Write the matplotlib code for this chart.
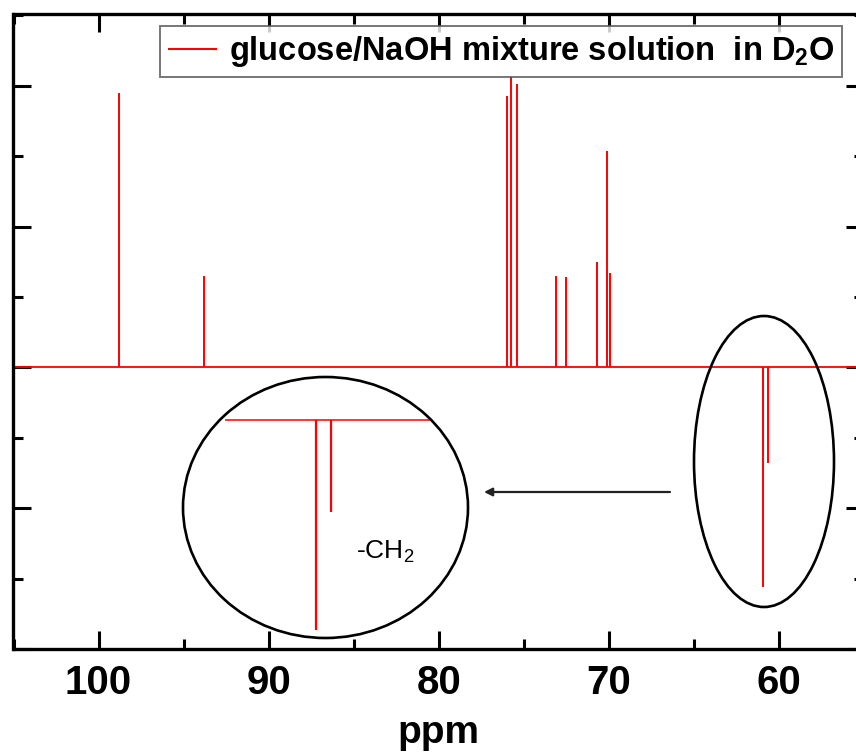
import matplotlib
matplotlib.use("Agg")
import matplotlib.pyplot as plt
from matplotlib.patches import Ellipse
from matplotlib.ticker import MultipleLocator

plt.rcParams["font.family"] = ["Liberation Sans", "DejaVu Sans"]
plt.rcParams["mathtext.fontset"] = "custom"
plt.rcParams["mathtext.rm"] = "Liberation Sans"
plt.rcParams["mathtext.bf"] = "Liberation Sans:bold"

# Peak list (ppm, relative intensity; CH2 peaks negative)
peak_ppm = [98.82, 93.82, 76.00, 75.76, 75.41, 73.10, 72.53, 70.71, 70.08, 69.92, 60.92, 60.66]
peak_height = [1.95, 0.65, 1.93, 2.07, 2.01, 0.65, 0.64, 0.75, 1.54, 0.67, -1.56, -0.68]

x_ticks = [100, 90, 80, 70, 60]
legend_label = r"glucose/NaOH mixture solution  in D$_\mathbf{2}$O"
inset_label = r"-CH$_\mathrm{2}$"

W, H = 856, 756


def fx(px):
    return px / W


def fy(py):
    return 1 - py / H


fig = plt.figure(figsize=(W / 100, H / 100), dpi=100)
ax = fig.add_axes([fx(13.5), fy(649), (864 - 13.5) / W, (649 - 14) / H])

ax.axhline(0, color="red", linewidth=1.3, zorder=2)
ax.vlines(peak_ppm, 0, peak_height, color="red", linewidth=1.4, label=legend_label)

ax.set_xlim(105, 55)
ax.set_ylim(-2.0, 2.51)
ax.set_xticks(x_ticks)
ax.xaxis.set_minor_locator(MultipleLocator(5))
ax.yaxis.set_major_locator(MultipleLocator(1))
ax.yaxis.set_minor_locator(MultipleLocator(0.5))
ax.set_yticklabels([])

ax.tick_params(which="both", direction="in", top=True, right=True, width=2.2)
ax.tick_params(which="major", length=13)
ax.tick_params(which="minor", length=7)
ax.tick_params(axis="x", labelsize=29, pad=11)
for lbl in ax.get_xticklabels():
    lbl.set_fontweight("bold")
for sp in ax.spines.values():
    sp.set_linewidth(2.4)

ax.set_xlabel("ppm", fontsize=28, fontweight="bold", labelpad=9)

leg = ax.legend(
    loc="upper left",
    bbox_to_anchor=(fx(160), fy(26)),
    bbox_transform=fig.transFigure,
    prop={"size": 23.5, "weight": "bold"},
    frameon=True,
    fancybox=False,
    borderaxespad=0,
    borderpad=0.25,
    handlelength=1.5,
    handletextpad=0.35,
)
leg.get_frame().set_edgecolor("#555555")
leg.get_frame().set_linewidth(1.4)
for h in leg.legend_handles:
    h.set_linewidth(1.5)

# zoomed view of the CH2 region
ins = fig.add_axes([fx(225), fy(635), 205 / W, 225 / H])
ins.axhline(0, color="red", linewidth=1.1)
ins.vlines(peak_ppm, 0, peak_height, color="red", linewidth=1.6)
ins.set_xlim(62.52, 58.91)
ins.set_ylim(-(635 - 420) / 134.6, (420 - 410) / 134.6)
ins.axis("off")

fig.add_artist(Ellipse((fx(325.5), fy(507.5)), 285 / W, 261 / H, transform=fig.transFigure,
                       fill=False, edgecolor="black", linewidth=1.9))
fig.add_artist(Ellipse((fx(764), fy(461.5)), 140 / W, 291 / H, transform=fig.transFigure,
                       fill=False, edgecolor="black", linewidth=1.9))
fig.text(fx(356), fy(552), inset_label, fontsize=19, va="center", ha="left")
ax.annotate("", xy=(fx(484), fy(492)), xytext=(fx(670), fy(492)),
            xycoords="figure fraction", textcoords="figure fraction",
            arrowprops=dict(arrowstyle="-|>", color="#222222", lw=1.6,
                            mutation_scale=12, shrinkA=0, shrinkB=0))

fig.savefig("out.png", dpi=100)
